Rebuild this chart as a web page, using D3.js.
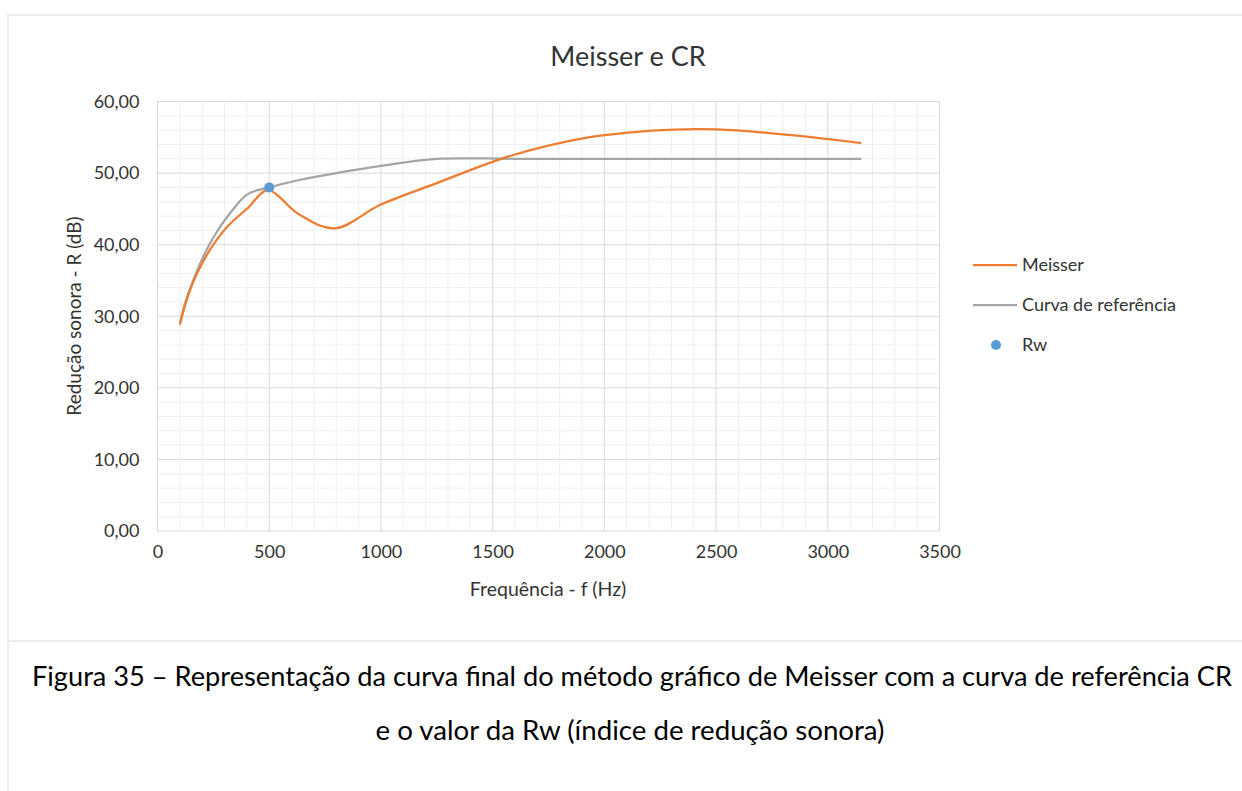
<!DOCTYPE html>
<html>
<head>
<meta charset="utf-8">
<script src="https://cdn.jsdelivr.net/npm/d3@7"></script>
<style>
  body { margin: 0; background: #fff; }
  text { font-family: Lato, "Open Sans", sans-serif; fill: #333; }
</style>
</head>
<body>
<script>
// one-third octave bands (Hz)
var freqs = [100, 125, 160, 200, 250, 315, 400, 500, 630, 800, 1000, 1250, 1600, 2000, 2500, 3150];
var meisser = [28.8, 31.7, 34.8, 37.4, 40.0, 42.6, 45.0, 47.6, 44.3, 42.3, 45.6, 48.6, 52.6, 55.3, 56.1, 54.2];
var curvaRef = [29, 32, 35, 38, 41, 44, 47, 48, 49, 50, 51, 52, 52, 52, 52, 52];
var rwFreq = [500];
var rwValue = [48];
var xTicks = [0, 500, 1000, 1500, 2000, 2500, 3000, 3500];
var yTicks = [0, 10, 20, 30, 40, 50, 60];
var legendNames = ["Meisser", "Curva de referência", "Rw"];

function init() {
    var w = 1242, h = 791;
    var left = 157.5, right = 939.5, top = 101.5, bottom = 531;

    var svg = d3.select("body").append("svg")
        .attr("width", w)
        .attr("height", h);

    // page frame
    svg.append("path")
        .attr("d", "M8,791 V15 H1242 M8,641 H1242")
        .attr("fill", "none")
        .style("stroke", "#ececec")
        .style("stroke-width", 2);

    var x = d3.scaleLinear().domain([0, 3500]).range([left, right]);
    var y = d3.scaleLinear().domain([0, 60]).range([bottom, top]);

    var comma = d3.formatLocale({decimal: ",", thousands: ".", grouping: [3], currency: ["", ""]});
    var fmtY = comma.format(".2f");

    // minor grid
    svg.append("g").selectAll("line")
        .data(d3.range(0, 3501, 100).filter(function(d) { return d % 500 != 0; }))
        .enter().append("line")
        .attr("x1", function(d) { return x(d); }).attr("x2", function(d) { return x(d); })
        .attr("y1", top).attr("y2", bottom)
        .style("stroke", "#f0f0f0").style("stroke-width", 1);
    svg.append("g").selectAll("line")
        .data(d3.range(0, 61, 2).filter(function(d) { return d % 10 != 0; }))
        .enter().append("line")
        .attr("y1", function(d) { return y(d); }).attr("y2", function(d) { return y(d); })
        .attr("x1", left).attr("x2", right)
        .style("stroke", "#f0f0f0").style("stroke-width", 1);

    // major grid
    svg.append("g").selectAll("line")
        .data(xTicks)
        .enter().append("line")
        .attr("x1", function(d) { return x(d); }).attr("x2", function(d) { return x(d); })
        .attr("y1", top).attr("y2", bottom)
        .style("stroke", "#d9d9d9").style("stroke-width", 1);
    svg.append("g").selectAll("line")
        .data(yTicks)
        .enter().append("line")
        .attr("y1", function(d) { return y(d); }).attr("y2", function(d) { return y(d); })
        .attr("x1", left).attr("x2", right)
        .style("stroke", "#d9d9d9").style("stroke-width", 1);

    // axes labels
    var xAxis = d3.axisBottom(x).tickValues(xTicks).tickSize(0).tickPadding(14).tickFormat(d3.format("d"));
    var gx = svg.append("g").attr("transform", "translate(0," + bottom + ")").call(xAxis);
    gx.select(".domain").remove();
    gx.selectAll("text").style("font-size", "18px").style("fill", "#333").style("font-family", "Lato, sans-serif");

    var yAxis = d3.axisLeft(y).tickValues(yTicks).tickSize(0).tickPadding(18).tickFormat(fmtY);
    var gy = svg.append("g").attr("transform", "translate(" + left + ",0)").call(yAxis);
    gy.select(".domain").remove();
    gy.selectAll("text").style("font-size", "18px").style("fill", "#333").style("font-family", "Lato, sans-serif");

    // series
    var pts = function(vals) {
        return freqs.map(function(f, i) { return [f, vals[i]]; });
    };
    var line = d3.line()
        .x(function(d) { return x(d[0]); })
        .y(function(d) { return y(d[1]); })
        .curve(d3.curveCardinal.tension(0));

    svg.append("path")
        .datum(pts(curvaRef))
        .attr("d", line)
        .attr("fill", "none")
        .style("stroke", "#a5a5a5")
        .style("stroke-width", 2.25);

    svg.append("path")
        .datum(pts(meisser))
        .attr("d", line)
        .attr("fill", "none")
        .style("stroke", "#ed7d31")
        .style("stroke-width", 2.25);

    svg.selectAll("circle.rw")
        .data(rwFreq)
        .enter().append("circle")
        .attr("class", "rw")
        .attr("cx", function(d) { return x(d); })
        .attr("cy", function(d, i) { return y(rwValue[i]); })
        .attr("r", 5)
        .style("fill", "#5b9bd5");

    // titles
    svg.append("text")
        .attr("x", 628).attr("y", 66)
        .attr("text-anchor", "middle")
        .style("font-size", "27px")
        .text("Meisser e CR");

    svg.append("text")
        .attr("x", 548).attr("y", 596)
        .attr("text-anchor", "middle")
        .style("font-size", "19.5px")
        .text("Frequência - f (Hz)");

    svg.append("text")
        .attr("transform", "translate(81,316) rotate(-90)")
        .attr("text-anchor", "middle")
        .style("font-size", "19px")
        .text("Redução sonora - R (dB)");

    // legend
    var colors = ["#ed7d31", "#a5a5a5", "#5b9bd5"];
    var lg = svg.append("g").selectAll("g")
        .data(legendNames)
        .enter().append("g")
        .attr("transform", function(d, i) { return "translate(973," + (265 + i * 40) + ")"; });
    lg.filter(function(d, i) { return i < 2; }).append("line")
        .attr("x1", 0).attr("x2", 44)
        .style("stroke", function(d, i) { return colors[i]; })
        .style("stroke-width", 2.25);
    lg.filter(function(d, i) { return i == 2; }).append("circle")
        .attr("cx", 23).attr("r", 5)
        .style("fill", colors[2]);
    lg.append("text")
        .attr("x", 49).attr("y", 6)
        .style("font-size", "18px")
        .text(function(d) { return d; });

    // caption
    svg.append("text")
        .attr("x", 632).attr("y", 686)
        .attr("text-anchor", "middle")
        .attr("textLength", 1200)
        .attr("lengthAdjust", "spacingAndGlyphs")
        .style("font-size", "26px")
        .style("fill", "#000")
        .text("Figura 35 – Representação da curva final do método gráfico de Meisser com a curva de referência CR");

    svg.append("text")
        .attr("x", 630).attr("y", 740)
        .attr("text-anchor", "middle")
        .attr("textLength", 509)
        .attr("lengthAdjust", "spacingAndGlyphs")
        .style("font-size", "26px")
        .style("fill", "#000")
        .text("e o valor da Rw (índice de redução sonora)");
}

window.onload = init;
</script>
</body>
</html>
